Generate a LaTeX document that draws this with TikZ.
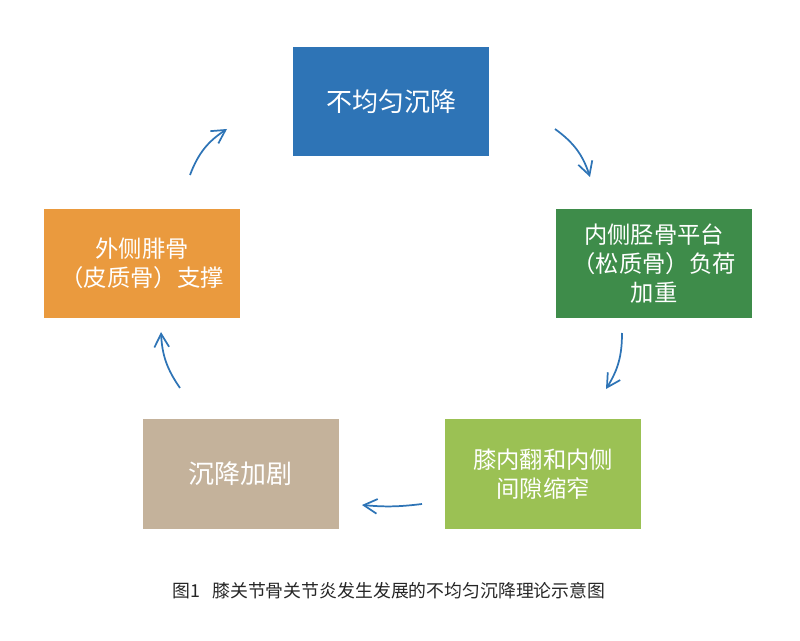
\documentclass[tikz,border=0pt]{standalone}
\usepackage{fontspec}
\newfontfamily\cjk{Noto Sans CJK SC}
\usetikzlibrary{arrows.meta}

\definecolor{boxblue}{RGB}{46,116,182}
\definecolor{boxgreen}{RGB}{62,140,74}
\definecolor{boxlime}{RGB}{155,193,84}
\definecolor{boxtan}{RGB}{196,178,155}
\definecolor{boxorange}{RGB}{234,154,62}
\definecolor{arrowblue}{RGB}{46,116,182}

\begin{document}
\begin{tikzpicture}[x=0.75pt,y=-0.75pt,
	stepbox/.style={minimum width=147pt, minimum height=81.75pt, inner sep=0pt, align=center, text=white, font=\cjk\fontsize{17.5}{21.5}\selectfont},
	bigtext/.style={font=\cjk\fontsize{19.5}{23}\selectfont},
	cyclearrow/.style={arrowblue, line width=1.3pt, -{Straight Barb[length=10pt,width=11pt]}}]
		
		\useasboundingbox (0,0) rectangle (800,641);
		
		\node[stepbox, bigtext, fill=boxblue] (uneven) at (391,102){不均匀沉降};
		\node[stepbox, fill=boxgreen] (tibia) at (654,263.5){内侧胫骨平台\\（松质骨）负荷\\加重};
		\node[stepbox, fill=boxlime] (varus) at (543,474){膝内翻和内侧\\间隙缩窄};
		\node[stepbox, bigtext, fill=boxtan] (worse) at (240.5,474){沉降加剧};
		\node[stepbox, fill=boxorange] (fibula) at (142,263.5){外侧腓骨\\（皮质骨）支撑};
		
		\node[text=black!85, font=\cjk\fontsize{13.4}{16}\selectfont] (caption) at (389,591){图1\hspace{9pt}膝关节骨关节炎发生发展的不均匀沉降理论示意图};
		
		%%%%% Arrows %%%%%%
		\coordinate (s1) at (555,129); \coordinate (e1) at (590,177);
		\coordinate (s2) at (622,333); \coordinate (e2) at (606,389);
		\coordinate (s3) at (422,504); \coordinate (e3) at (362,505);
		\coordinate (s4) at (180,388); \coordinate (e4) at (161,332);
		\coordinate (s5) at (190,175); \coordinate (e5) at (227,129);
		
		\draw[cyclearrow] (s1) to[bend left=18] (e1);
		\draw[cyclearrow] (s2) to[bend left=16] (e2);
		\draw[cyclearrow] (s3) to[bend left=6] (e3);
		\draw[cyclearrow] (s4) to[bend left=16] (e4);
		\draw[cyclearrow] (s5) to[bend left=18] (e5);
		
		\end{tikzpicture}
\end{document}
